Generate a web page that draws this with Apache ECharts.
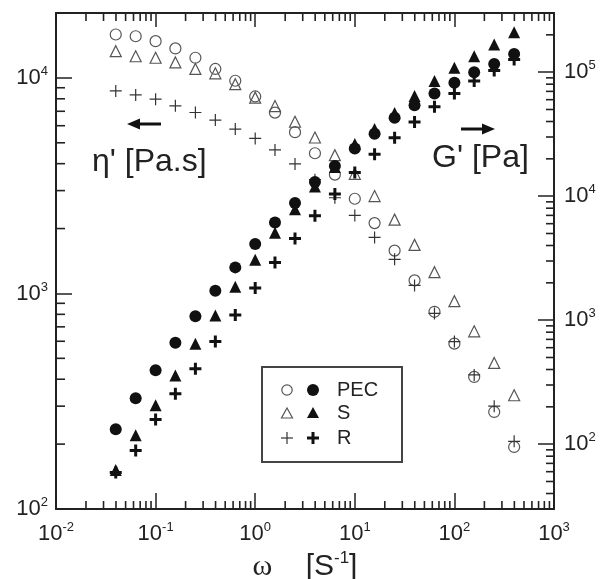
<!DOCTYPE html>
<html>
<head>
<meta charset="utf-8">
<script src="https://cdn.jsdelivr.net/npm/echarts@6/dist/echarts.min.js"></script>
<style>
html, body { margin: 0; padding: 0; background: #fff; }
#chart { width: 602px; height: 579px; }
</style>
</head>
<body>
<div id="chart"></div>
<script>
// angular frequency [s-1], 5 points per decade
var omega = [0.0398, 0.0631, 0.1, 0.158, 0.251, 0.398, 0.631, 1, 1.58, 2.51, 3.98,
    6.31, 10, 15.8, 25.1, 39.8, 63.1, 100, 158, 251, 398];

// eta' [Pa.s]  (left axis)
var etaPEC = [15900, 15600, 14800, 13700, 12400, 11000, 9700, 8200, 6900, 5600, 4470,
    3560, 2750, 2120, 1580, 1150, 822, 585, 410, 282, 194];
var etaS = [13300, 12600, 12400, 11800, 11000, 10500, 9350, 8100, 7400, 6260, 5290,
    4380, 3590, 2830, 2200, 1680, 1255, 921, 667, 476, 337];
var etaR = [8700, 8340, 7970, 7420, 6910, 6370, 5790, 5240, 4630, 3990, 3370,
    2780, 2300, 1820, 1440, 1090, 808, 598, 419, 300, 206];

// G' [Pa]  (right axis)
var gPEC = [132, 235, 394, 657, 1075, 1730, 2665, 4110, 6130, 8790, 13000,
    17500, 24200, 31900, 42900, 54000, 67400, 82000, 100000, 116600, 140400];
var gS = [62, 118, 206, 358, 645, 1090, 1860, 3070, 5070, 7860, 11950,
    17200, 26400, 34800, 46800, 64100, 84700, 108300, 134500, 167000, 210000];
var gR = [59, 89, 158, 255, 406, 673, 1100, 1820, 2920, 4560, 6950,
    10400, 15500, 21800, 29600, 39600, 52600, 67400, 84700, 103000, 126500];

var legendNames = ['PEC', 'S', 'R'];

var X_MIN = 0.01, X_MAX = 1000;
var L_MIN = 100, L_MAX = 20000;
var R_MIN = 30, R_MAX = 300000;

var FONT = '"Liberation Sans", Arial, sans-serif';
var INK = '#222';

var plusBold = 'path://M4.5,0h3v4.5h4.5v3h-4.5v4.5h-3v-4.5h-4.5v-3h4.5z';
var plusThin = 'path://M5.4,0h1.2v5.4h5.4v1.2h-5.4v5.4h-1.2v-5.4h-5.4v-1.2h5.4z';

// minor tick values (2..9 in each decade) inside a range
function minors(lo, hi) {
    var out = [];
    for (var d = -3; d <= 6; d++) {
        for (var m = 2; m <= 9; m++) {
            var v = m * Math.pow(10, d);
            if (v > lo * 1.0001 && v < hi * 0.9999) out.push(v);
        }
    }
    return out;
}

function pow10Label(v) {
    var e = Math.log10(v);
    var r = Math.round(e);
    if (Math.abs(e - r) > 1e-6) return '';
    return '{b|10}{s|' + r + '}';
}

var labelRich = {
    b: { fontSize: 22, fontFamily: FONT, color: INK, lineHeight: 26 },
    s: { fontSize: 13, fontFamily: FONT, color: INK, verticalAlign: 'top', lineHeight: 14 }
};

function pts(ys) {
    return omega.map(function (w, i) { return [w, ys[i]]; });
}

function scatter(name, ys, yIdx, symbol, size, style) {
    return {
        name: name, type: 'scatter', xAxisIndex: 0, yAxisIndex: yIdx,
        symbol: symbol, symbolSize: size, itemStyle: style,
        data: pts(ys), clip: false, z: 5
    };
}

// minor tick marks: thin rect symbols sitting on the axis, placed by the axis scale
function tickSeries(data, xIdx, yIdx, size, offset) {
    return {
        type: 'scatter', xAxisIndex: xIdx, yAxisIndex: yIdx,
        silent: true, clip: false, symbol: 'rect', symbolSize: size, symbolOffset: offset,
        itemStyle: { color: INK, opacity: 1 }, data: data, z: 4
    };
}

var openStyle = { color: 'rgba(0,0,0,0)', borderColor: '#555', borderWidth: 1.2, opacity: 1 };
var fillStyle = { color: '#111', opacity: 1 };

var chart = echarts.init(document.getElementById('chart'));
var axisLine = { show: true, lineStyle: { color: INK, width: 2 } };

var option = {
    animation: false,
    backgroundColor: '#fff',
    grid: { left: 56, top: 13, right: 48, bottom: 70, containLabel: false, outerBoundsMode: 'none' },
    xAxis: [{
        type: 'log', min: X_MIN, max: X_MAX, position: 'bottom',
        axisLine: axisLine,
        axisTick: { inside: true, length: 16, lineStyle: { color: INK, width: 1.5 } },
        splitLine: { show: false },
        axisLabel: { formatter: pow10Label, margin: 12, rich: labelRich },
        name: '{w|ω}    [S{e|-1}]', nameLocation: 'middle', nameGap: 36,
        nameTextStyle: {
            rich: {
                w: { fontSize: 30, fontFamily: '"Liberation Serif", serif', color: INK, lineHeight: 34 },
                e: { fontSize: 17, fontFamily: FONT, color: INK, verticalAlign: 'top', lineHeight: 18 }
            },
            fontSize: 30, fontFamily: FONT, color: INK
        }
    }, {
        type: 'log', min: X_MIN, max: X_MAX, position: 'top',
        axisLine: axisLine,
        axisTick: { inside: true, length: 14, lineStyle: { color: INK, width: 1.5 } },
        splitLine: { show: false }, axisLabel: { show: false }
    }],
    yAxis: [{
        type: 'log', min: L_MIN, max: L_MAX, position: 'left',
        axisLine: axisLine,
        axisTick: { inside: true, length: 16, lineStyle: { color: INK, width: 1.5 } },
        splitLine: { show: false },
        axisLabel: { formatter: pow10Label, margin: 8, rich: labelRich }
    }, {
        type: 'log', min: R_MIN, max: R_MAX, position: 'right',
        axisLine: axisLine,
        axisTick: { inside: true, length: 16, lineStyle: { color: INK, width: 1.5 } },
        splitLine: { show: false },
        axisLabel: { formatter: pow10Label, margin: 10, rich: labelRich }
    }],
    series: [
        tickSeries(minors(X_MIN, X_MAX).map(function (v) { return [v, L_MIN]; }), 0, 0, [1.6, 8], [0, -4]),
        tickSeries(minors(X_MIN, X_MAX).map(function (v) { return [v, L_MAX]; }), 1, 0, [1.6, 8], [0, 4]),
        tickSeries(minors(L_MIN, L_MAX).map(function (v) { return [X_MIN, v]; }), 0, 0, [9, 1.6], [4.5, 0]),
        tickSeries(minors(R_MIN, R_MAX).map(function (v) { return [X_MAX, v]; }), 0, 1, [8, 1.6], [-4, 0]),
        scatter("PEC eta'", etaPEC, 0, 'circle', 11, openStyle),
        scatter("S eta'", etaS, 0, 'triangle', 11, openStyle),
        scatter("R eta'", etaR, 0, plusThin, 12, { color: '#333', opacity: 1 }),
        scatter("PEC G'", gPEC, 1, 'circle', 12, fillStyle),
        scatter("S G'", gS, 1, 'triangle', 12, fillStyle),
        scatter("R G'", gR, 1, plusBold, 12, fillStyle)
    ],
    graphic: [
        { type: 'text', left: 92, top: 146,
          style: { text: "η' [Pa.s]", font: '32px ' + FONT, fill: INK } },
        { type: 'text', left: 432, top: 142,
          style: { text: "G' [Pa]", font: '32px ' + FONT, fill: INK } },
        // arrows
        { type: 'line', shape: { x1: 161, y1: 124, x2: 136, y2: 124 },
          style: { stroke: '#111', lineWidth: 3 } },
        { type: 'polygon', shape: { points: [[127, 124], [140, 118.5], [140, 129.5]] },
          style: { fill: '#111' } },
        { type: 'line', shape: { x1: 461, y1: 129, x2: 486, y2: 129 },
          style: { stroke: '#111', lineWidth: 3 } },
        { type: 'polygon', shape: { points: [[495, 129], [482, 123.5], [482, 134.5]] },
          style: { fill: '#111' } },
        // legend box
        { type: 'rect', shape: { x: 262, y: 367, width: 140, height: 95 },
          style: { fill: '#fff', stroke: '#444', lineWidth: 2 }, z: 10 },
        { type: 'circle', shape: { cx: 287, cy: 390, r: 5.2 },
          style: { fill: 'none', stroke: '#555', lineWidth: 1.2 }, z: 11 },
        { type: 'circle', shape: { cx: 313, cy: 390, r: 6 },
          style: { fill: '#111' }, z: 11 },
        { type: 'polygon', shape: { points: [[287, 408], [292.5, 418], [281.5, 418]] },
          style: { fill: 'none', stroke: '#555', lineWidth: 1.2 }, z: 11 },
        { type: 'polygon', shape: { points: [[313, 407], [319, 418], [307, 418]] },
          style: { fill: '#111' }, z: 11 },
        { type: 'line', shape: { x1: 281, y1: 438, x2: 293, y2: 438 },
          style: { stroke: '#333', lineWidth: 1.2 }, z: 11 },
        { type: 'line', shape: { x1: 287, y1: 432, x2: 287, y2: 444 },
          style: { stroke: '#333', lineWidth: 1.2 }, z: 11 },
        { type: 'line', shape: { x1: 307, y1: 438, x2: 319, y2: 438 },
          style: { stroke: '#111', lineWidth: 3 }, z: 11 },
        { type: 'line', shape: { x1: 313, y1: 432, x2: 313, y2: 444 },
          style: { stroke: '#111', lineWidth: 3 }, z: 11 },
        { type: 'text', left: 337, top: 380, z: 11,
          style: { text: legendNames[0], font: '20px ' + FONT, fill: INK } },
        { type: 'text', left: 337, top: 403, z: 11,
          style: { text: legendNames[1], font: '20px ' + FONT, fill: INK } },
        { type: 'text', left: 337, top: 428, z: 11,
          style: { text: legendNames[2], font: '20px ' + FONT, fill: INK } }
    ]
};

chart.setOption(option);
</script>
</body>
</html>
